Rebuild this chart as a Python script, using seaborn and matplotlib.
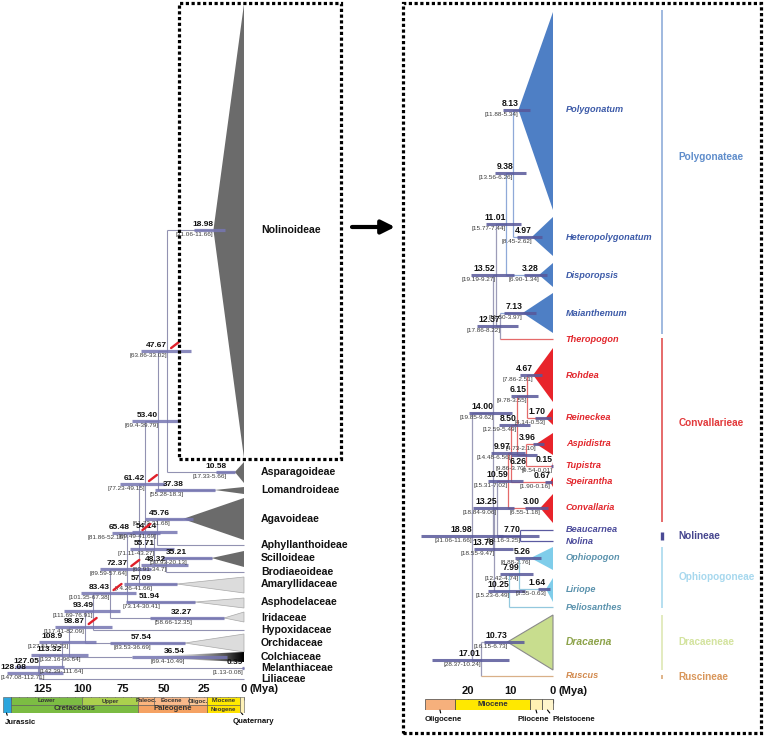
import numpy as np
import pandas as pd
import matplotlib
matplotlib.use("Agg")
import matplotlib.pyplot as plt
import seaborn as sns
from matplotlib.patches import Polygon, Rectangle

sns.set_theme(style="white")
plt.rcParams["font.family"] = ["Liberation Sans", "DejaVu Sans"]

# ======================= LEFT PANEL DATA (ages in Mya) =======================
left_tips = ["Nolinoideae", "Asparagoideae", "Lomandroideae", "Agavoideae",
             "Aphyllanthoideae", "Scilloideae", "Brodiaeoideae", "Amaryllidaceae",
             "Asphodelaceae", "Iridaceae", "Hypoxidaceae", "Orchidaceae",
             "Colchiaceae", "Melanthiaceae", "Liliaceae"]
left_tip_row = [230, 472, 490, 519, 545, 558, 572, 584, 602, 618, 630, 643, 657, 668, 679]
left_crown_age = ["18.98", "10.58", "37.38", "45.76", None, "35.21", None, "57.09",
                  "51.94", "32.27", None, "57.54", "36.54", "0.39", None]
left_crown_hpd = ["31.06-11.66", "17.33-5.66", "55.28-18.3", "61.73-31.68", None,
                  "50.93-20.13", None, "74.26-41.66", "73.14-30.41", "58.66-12.35",
                  None, "83.53-36.69", "69.4-10.49", "1.13-0.08", None]
left_clade_apex = [18.98, 5.66, 18.3, 38.0, None, 20.13, None, 41.66, 30.41, 12.35,
                   None, 36.69, 69.4, None, None]
left_clade_top = [4, 462, 487, 498, None, 551, None, 577, 598, 612, None, 634, 652, None, None]
left_clade_bottom = [458, 483, 494, 540, None, 567, None, 593, 608, 622, None, 652, 662, None, None]
left_clade_fill = ["dark", "dark", "dark", "dark", None, "dark", None, "light", "light",
                   "light", None, "light", "gradient", None, None]

left_nodes = ["128.08", "127.05", "113.32", "108.9", "98.87", "93.49", "83.43", "72.37",
              "65.48", "61.42", "55.71", "54.14", "48.32", "53.40", "47.67"]
left_node_hpd = ["147.08-112.71", "142.39-111.64", "132.16-96.64", "127.51-92.23",
                 "117.41-82.09", "111.69-76.91", "101.35-67.38", "89.59-57.64",
                 "81.86-52.16", "77.23-49.15", "71.11-43.27", "69.49-41.69",
                 "63.91-34.7", "69.4-39.79", "63.86-33.02"]
left_node_row = [673, 667, 655, 642, 627, 611, 593, 569, 533, 484, 549, 532, 565, 421, 351]
left_node_children = [["127.05"], ["113.32", "Liliaceae"], ["108.9", "Melanthiaceae"],
                      ["98.87", "Colchiaceae"], ["93.49", "Orchidaceae"],
                      ["83.43", "Hypoxidaceae"], ["72.37", "Iridaceae"],
                      ["65.48", "Asphodelaceae"], ["61.42", "Amaryllidaceae"],
                      ["53.40", "55.71"], ["54.14", "48.32"],
                      ["Agavoideae", "Aphyllanthoideae"], ["Scilloideae", "Brodiaeoideae"],
                      ["47.67", "Lomandroideae"], ["Nolinoideae", "Asparagoideae"]]
left_calibrated = ["47.67", "61.42", "65.48", "72.37", "83.43", "98.87"]

# ======================= RIGHT PANEL DATA (ages in Mya) ======================
right_tips = ["Polygonatum", "Heteropolygonatum", "Disporopsis", "Maianthemum",
              "Theropogon", "Rohdea", "Reineckea", "Aspidistra", "Tupistra",
              "Speirantha", "Convallaria", "Beaucarnea", "Nolina", "Ophiopogon",
              "Liriope", "Peliosanthes", "Dracaena", "Ruscus"]
right_tip_tribe = (["Polygonateae"] * 4 + ["Convallarieae"] * 7 + ["Nolineae"] * 2 +
                   ["Ophiopogoneae"] * 3 + ["Dracaeneae", "Ruscineae"])
right_tip_row = [110, 237, 275, 313, 339, 375, 418, 444, 466, 482, 508, 530, 541, 558,
                 589, 607, 642, 676]
right_crown_age = ["8.13", "4.97", "3.28", "7.13", None, "4.67", "1.70", "3.96", "0.15",
                   "0.67", "3.00", None, None, "5.26", "1.64", None, "10.73", None]
right_crown_hpd = ["11.88-5.34", "8.45-2.62", "6.90-1.34", "11.50-3.97", None,
                   "7.86-2.51", "4.14-0.53", "4.73-2.10", "0.54-0.01", "1.90-0.16",
                   "6.55-1.18", None, None, "8.88-2.76", "3.55-0.63", None,
                   "16.15-6.73", None]
right_clade_top = [12, 217, 263, 293, None, 348, 408, 433, 462, 477, 494, None, None,
                   547, 578, None, 615, None]
right_clade_bottom = [210, 256, 287, 333, None, 402, 425, 455, 470, 487, 523, None, None,
                      570, 602, None, 670, None]

right_nodes = ["9.38", "11.01", "12.37", "13.52", "6.15", "6.26", "8.50", "9.97",
               "10.59", "7.70", "13.25", "7.99", "10.25", "13.78", "14.00", "17.01", "18.98"]
right_node_hpd = ["13.56-6.26", "15.77-7.44", "17.86-8.22", "19.19-9.27", "9.78-3.55",
                  "9.86-3.70", "12.59-5.49", "14.48-6.56", "15.31-7.02", "13.16-3.25",
                  "18.84-9.06", "12.42-4.74", "15.23-6.49", "18.55-9.47", "19.85-9.62",
                  "28.37-10.24", "31.06-11.66"]
right_node_row = [173, 224, 326, 275, 396, 455, 425, 453, 481, 536, 508, 574, 591, 549,
                  413, 660, 536]
right_node_children = [["Polygonatum", "Heteropolygonatum"], ["9.38", "Disporopsis"],
                       ["Maianthemum", "Theropogon"], ["11.01", "12.37"],
                       ["Rohdea", "Reineckea"], ["Aspidistra", "Tupistra"],
                       ["6.15", "6.26"], ["8.50", "Speirantha"], ["9.97", "Convallaria"],
                       ["Beaucarnea", "Nolina"], ["10.59", "7.70"],
                       ["Ophiopogon", "Liriope"], ["7.99", "Peliosanthes"],
                       ["13.25", "10.25"], ["13.52", "13.78"], ["Dracaena", "Ruscus"],
                       ["14.00", "17.01"]]

tribes = ["Polygonateae", "Convallarieae", "Nolineae", "Ophiopogoneae", "Dracaeneae", "Ruscineae"]
tribe_row_top = [10, 338, 532, 547, 615, 675]
tribe_row_bottom = [334, 522, 540, 608, 670, 679]
tribe_label_row = [157, 423, 536, 577, 642, 677]

# ======================= TIME SCALES =======================
geo_top_names = ["Lower", "Upper", "Paleoc.", "Eocene", "Oligoc.", "Miocene"]
geo_top_start = [145, 100.5, 66, 56, 33.9, 23]
geo_top_end = [100.5, 66, 56, 33.9, 23, 2.58]
geo_bot_names = ["Cretaceous", "Paleogene", "Neogene"]
geo_bot_start = [145, 66, 23]
geo_bot_end = [66, 23, 2.58]
geo_full_names = ["Jurassic", "Quaternary"]
geo_full_start = [149.7, 2.58]
geo_full_end = [145, 0]
left_ticks = [125, 100, 75, 50, 25, 0]

right_epochs = ["Oligocene", "Miocene", "Pliocene", "Pleistocene"]
right_epoch_start = [30.1, 23.03, 5.33, 2.58]
right_epoch_end = [23.03, 5.33, 2.58, 0]
right_ticks = [20, 10, 0]

# ======================= STYLES =======================
W, H = 764, 736
LEFT_LINE = "#9292b2"
LEFT_BAR = "#7676b2"
RIGHT_BAR = "#58589a"
MIXED_LINE = "#9c9cb8"
tribe_line = {"Polygonateae": "#8fa9d8", "Convallarieae": "#e56a6a", "Nolineae": "#5a5aa0",
              "Ophiopogoneae": "#93c8de", "Dracaeneae": "#a8a8c0", "Ruscineae": "#d9b088"}
tribe_text = {"Polygonateae": "#5f8dcb", "Convallarieae": "#e2393b", "Nolineae": "#46468f",
              "Ophiopogoneae": "#a7d8ee", "Dracaeneae": "#d3e39e", "Ruscineae": "#d9965a"}
tribe_vline = {"Polygonateae": "#9fb9df", "Convallarieae": "#e66a6a", "Nolineae": "#4a4a95",
               "Ophiopogoneae": "#b5dff0", "Dracaeneae": "#e3ebbf", "Ruscineae": "#e0b48a"}
genus_text = {"Polygonateae": "#3c5aa8", "Convallarieae": "#e2262c", "Nolineae": "#4a4a9a",
              "Ophiopogoneae": "#5a92ad", "Dracaeneae": "#8da34a", "Ruscineae": "#d28a4e"}
tri_fill = {"Polygonateae": "#4e7fc5", "Convallarieae": "#e8242b",
            "Ophiopogoneae": "#7fcdea", "Dracaeneae": "#c8dd8e"}

# label placement tweaks (anchor position in Mya, alignment) for crowded nodes
age_label_anchor = {"128.08": (151.0, "left"), "108.9": (113.0, "right"),
                    "65.48": (70.8, "right")}
hpd_label_anchor = {"128.08": (151.3, "left"), "127.05": (127.05, "left"),
                    "113.32": (127.0, "left"), "65.48": (73.9, "right")}
labels_below = {"6.26"}


def hpd(s):
    a, b = s.split("-")
    return float(a), float(b)


fig = plt.figure(figsize=(W / 100, H / 100), dpi=100)
fig.patch.set_facecolor("white")

axL = fig.add_axes([0, 0, 400 / W, 1])
axR = fig.add_axes([400 / W, 0, 364 / W, 1])
L_XLIM = (151.55, -96.9)
R_XLIM = (36.0, -49.65)
for ax, xl in ((axL, L_XLIM), (axR, R_XLIM)):
    ax.set_xlim(*xl)
    ax.set_ylim(H, 0)
    ax.axis("off")


def draw_tree(ax, tips, tip_row, tip_end, nodes, node_row, children, line_color, lw):
    pos = {t: (e, r) for t, r, e in zip(tips, tip_row, tip_end)}
    for n, r in zip(nodes, node_row):
        pos[n] = (float(n), r)
    for n, r, ch in zip(nodes, node_row, children):
        age = float(n)
        ys = [pos[c][1] for c in ch] + ([r] if len(ch) == 1 else [])
        ax.plot([age, age], [min(ys), max(ys)], color=line_color(n), lw=lw,
                solid_capstyle="butt", zorder=2)
        for c in ch:
            ax.plot([age, pos[c][0]], [pos[c][1]] * 2, color=line_color(c), lw=lw,
                    solid_capstyle="butt", zorder=2)


def node_labels(ax, age_s, hpd_s, row, bar_color, bar_lw, afs, hfs):
    age = float(age_s)
    lo, hi = hpd(hpd_s)
    ax.plot([lo, hi], [row, row], color=bar_color, lw=bar_lw, alpha=0.85,
            solid_capstyle="butt", zorder=4)
    ax_age, ax_ha = age_label_anchor.get(age_s, (age, "right"))
    hx_age, hx_ha = hpd_label_anchor.get(age_s, (age, "right"))
    if age_s in labels_below:
        a_off, a_va, h_off = (0, -1.5), "top", (0, -8.0)
    else:
        a_off, a_va, h_off = (0, 1.2), "bottom", (0, -1.5)
    ax.annotate(age_s, (ax_age, row), xytext=a_off, textcoords="offset points",
                ha=ax_ha, va=a_va, fontsize=afs, fontweight="bold",
                color="#111111", zorder=6)
    ax.annotate("[" + hpd_s + "]", (hx_age, row), xytext=h_off, textcoords="offset points",
                ha=hx_ha, va="top", fontsize=hfs, color="#3a3a3a", zorder=6)


# ----------------------------- LEFT TREE -----------------------------
left_end = [a if a is not None else 0 for a in left_clade_apex]
draw_tree(axL, left_tips, left_tip_row, left_end, left_nodes, left_node_row,
          left_node_children, lambda x: LEFT_LINE, 0.8)

for t, r, ap, top, bot, fill in zip(left_tips, left_tip_row, left_clade_apex,
                                    left_clade_top, left_clade_bottom, left_clade_fill):
    if fill is None:
        continue
    verts = [(ap, r), (0, top), (0, bot)]
    if fill == "dark":
        axL.add_patch(Polygon(verts, closed=True, facecolor="#6b6b6b", edgecolor="none", zorder=3))
    elif fill == "light":
        axL.add_patch(Polygon(verts, closed=True, facecolor="#dcdcdc", edgecolor="#a8a8a8",
                              lw=0.5, zorder=3))
    else:
        poly = Polygon(verts, closed=True, facecolor="none", edgecolor="none", zorder=3)
        axL.add_patch(poly)
        grad = np.linspace(0.0, 1.0, 256).reshape(1, -1) ** 1.6
        im = axL.imshow(grad, cmap="Greys", vmin=0, vmax=1, extent=(ap, 0, bot, top),
                        aspect="auto", zorder=3, interpolation="bilinear")
        im.set_clip_path(poly)

for t, r in zip(left_tips, left_tip_row):
    axL.text(-10.6, r, t, ha="left", va="center", fontsize=7.6, fontweight="bold",
             color="#111111")

for n, h, r in zip(left_nodes, left_node_hpd, left_node_row):
    node_labels(axL, n, h, r, LEFT_BAR, 2.3, 6.0, 4.6)
for a, h, r in zip(left_crown_age, left_crown_hpd, left_tip_row):
    if a is not None:
        node_labels(axL, a, h, r, LEFT_BAR, 2.3, 6.0, 4.6)

for n, r in zip(left_nodes, left_node_row):
    if n in left_calibrated:
        axL.annotate("", (float(n), r), xytext=(8.5, 6.5), textcoords="offset points",
                     arrowprops=dict(arrowstyle="-", color="#e0202a", lw=1.7,
                                     shrinkA=0, shrinkB=3.5), zorder=7)

axL.set_xlim(*L_XLIM)
axL.set_ylim(H, 0)

# ----------------------------- RIGHT TREE -----------------------------
tip_tribe = dict(zip(right_tips, right_tip_tribe))
kids = dict(zip(right_nodes, right_node_children))


def tips_under(x):
    if x in tip_tribe:
        return [x]
    out = []
    for c in kids[x]:
        out += tips_under(c)
    return out


def right_color(x):
    ts = set(tip_tribe[t] for t in tips_under(x))
    return tribe_line[ts.pop()] if len(ts) == 1 else MIXED_LINE


right_end = [float(a) if (a is not None and tp is not None) else 0
             for a, tp in zip(right_crown_age, right_clade_top)]
draw_tree(axR, right_tips, right_tip_row, right_end, right_nodes, right_node_row,
          right_node_children, right_color, 0.9)

for t, tr, r, a, top, bot in zip(right_tips, right_tip_tribe, right_tip_row,
                                 right_crown_age, right_clade_top, right_clade_bottom):
    if top is None:
        continue
    ec = "#8a8a8a" if tr == "Dracaeneae" else "none"
    axR.add_patch(Polygon([(float(a), r), (0, top), (0, bot)], closed=True,
                          facecolor=tri_fill[tr], edgecolor=ec, lw=0.8, zorder=3))

for t, tr, r in zip(right_tips, right_tip_tribe, right_tip_row):
    axR.text(-3.0, r, t, ha="left", va="center", fontsize=7.4 if t == "Dracaena" else 6.6,
             fontweight="bold", fontstyle="italic", color=genus_text[tr])

for n, h, r in zip(right_nodes, right_node_hpd, right_node_row):
    node_labels(axR, n, h, r, RIGHT_BAR, 2.2, 6.2, 4.6)
for a, h, r in zip(right_crown_age, right_crown_hpd, right_tip_row):
    if a is not None:
        node_labels(axR, a, h, r, RIGHT_BAR, 2.2, 6.2, 4.6)

for tb, t0, t1, lr in zip(tribes, tribe_row_top, tribe_row_bottom, tribe_label_row):
    axR.plot([-25.65, -25.65], [t0, t1], color=tribe_vline[tb],
             lw=2.4 if tb == "Nolineae" else 1.4, solid_capstyle="butt")
    axR.text(-29.6, lr, tb, ha="left", va="center", fontsize=7.2, fontweight="bold",
             color=tribe_text[tb])

axR.set_xlim(*R_XLIM)
axR.set_ylim(H, 0)

# ----------------------------- TIME SCALES -----------------------------
axLT = fig.add_axes([0, 1 - 713 / H, 400 / W, 16 / H])
axLT.set_xlim(*L_XLIM)
axLT.set_ylim(0, 2)
top_cols = ["#7cbd43", "#abd04d", "#fbb57e", "#f9b98a", "#fcc795", "#ffea00"]
bot_cols = ["#7bbb42", "#f5a263", "#ffe300"]
full_cols = ["#2ca6dd", "#fff2b8"]
for s, e, c in zip(geo_top_start, geo_top_end, top_cols):
    axLT.barh(1.5, s - e, left=e, height=1, color=c, edgecolor="#555555", lw=0.4)
for s, e, c in zip(geo_bot_start, geo_bot_end, bot_cols):
    axLT.barh(0.5, s - e, left=e, height=1, color=c, edgecolor="#555555", lw=0.4)
for s, e, c in zip(geo_full_start, geo_full_end, full_cols):
    axLT.barh(1.0, s - e, left=e, height=2, color=c, edgecolor="#555555", lw=0.4)
for nm, s, e in zip(geo_top_names, geo_top_start, geo_top_end):
    axLT.text((s + e) / 2, 1.5, nm, ha="center", va="center", fontsize=4.3,
              fontweight="bold", color="#333333")
for nm, s, e in zip(geo_bot_names, geo_bot_start, geo_bot_end):
    axLT.text((s + e) / 2, 0.5, nm, ha="center", va="center",
              fontsize=4.3 if nm == "Neogene" else 5.6, fontweight="bold", color="#333333")
axLT.annotate("Jurassic", (147.5, 0), xytext=(-1.5, -4), textcoords="offset points",
              ha="left", va="top", fontsize=5.6, fontweight="bold", color="#111111",
              arrowprops=dict(arrowstyle="-", lw=0.8, color="black", shrinkA=0, shrinkB=0,
                              relpos=(0.12, 1)))
axLT.annotate("Quaternary", (1.6, 0), xytext=(-6.5, -3.5), textcoords="offset points",
              ha="left", va="top", fontsize=5.6, fontweight="bold", color="#111111",
              arrowprops=dict(arrowstyle="-", lw=0.8, color="black", shrinkA=0, shrinkB=0,
                              relpos=(0.32, 1)))
axLT.set_xticks(left_ticks)
axLT.set_xticklabels([str(t) for t in left_ticks], fontsize=8, fontweight="bold")
axLT.set_xticks(np.arange(145, -1, -5), minor=True)
axLT.xaxis.tick_top()
axLT.tick_params(axis="x", which="both", direction="in", length=2.5, width=0.6,
                 pad=2, top=True, bottom=False, colors="#333333", labelcolor="#111111")
axLT.set_yticks([])
for sp in axLT.spines.values():
    sp.set_visible(False)
axLT.annotate("(Mya)", (0, 2), xytext=(4, 2.2), textcoords="offset points", ha="left",
              va="bottom", fontsize=8, fontweight="bold", color="#111111")

axRT = fig.add_axes([400 / W, 1 - 710 / H, 364 / W, 11 / H])
axRT.set_xlim(*R_XLIM)
axRT.set_ylim(0, 1)
ep_cols = ["#f6b07c", "#ffe800", "#fff1b3", "#fff5cc"]
for nm, s, e, c in zip(right_epochs, right_epoch_start, right_epoch_end, ep_cols):
    axRT.barh(0.5, s - e, left=e, height=1, color=c, edgecolor="#444444", lw=0.5)
axRT.text((right_epoch_start[1] + right_epoch_end[1]) / 2, 0.5, "Miocene", ha="center",
          va="center", fontsize=5.6, fontweight="bold", color="#333333")
for nm, xy_age, dx, rp in (("Oligocene", 26.6, -11, 0.45),
                           ("Pliocene", 4.0, -13.5, 0.65),
                           ("Pleistocene", 1.3, 3.5, 0.0)):
    axRT.annotate(nm, (xy_age, 0), xytext=(dx, -4.5), textcoords="offset points",
                  ha="left", va="top", fontsize=5.6, fontweight="bold", color="#111111",
                  arrowprops=dict(arrowstyle="-", lw=0.8, color="black", shrinkA=0,
                                  shrinkB=0, relpos=(rp, 1)))
axRT.set_xticks(right_ticks)
axRT.set_xticklabels([str(t) for t in right_ticks], fontsize=8, fontweight="bold")
axRT.xaxis.tick_top()
axRT.tick_params(axis="x", direction="in", length=3, width=0.8, pad=2, top=True,
                 bottom=False, colors="#222222", labelcolor="#111111")
axRT.set_yticks([])
for sp in axRT.spines.values():
    sp.set_visible(False)
axRT.annotate("(Mya)", (0, 1), xytext=(4, 2.2), textcoords="offset points", ha="left",
              va="bottom", fontsize=8, fontweight="bold", color="#111111")

# ----------------------------- FRAMES & ARROW -----------------------------
dot = (0, (1, 0.8))
fig.add_artist(Rectangle((179 / W, 1 - 459 / H), (341 - 179) / W, (459 - 3) / H,
                         transform=fig.transFigure, fill=False, edgecolor="black",
                         lw=2.3, linestyle=dot))
fig.add_artist(Rectangle((403 / W, 1 - 733 / H), (761 - 403) / W, (733 - 3) / H,
                         transform=fig.transFigure, fill=False, edgecolor="black",
                         lw=2.3, linestyle=dot))
axL.annotate("", xy=(395 / W, 1 - 227 / H), xycoords="figure fraction",
             xytext=(352 / W, 1 - 227 / H), textcoords="figure fraction",
             arrowprops=dict(arrowstyle="-|>", color="black", lw=3, mutation_scale=20,
                             shrinkA=0, shrinkB=0))

fig.savefig("out.png", dpi=100)
